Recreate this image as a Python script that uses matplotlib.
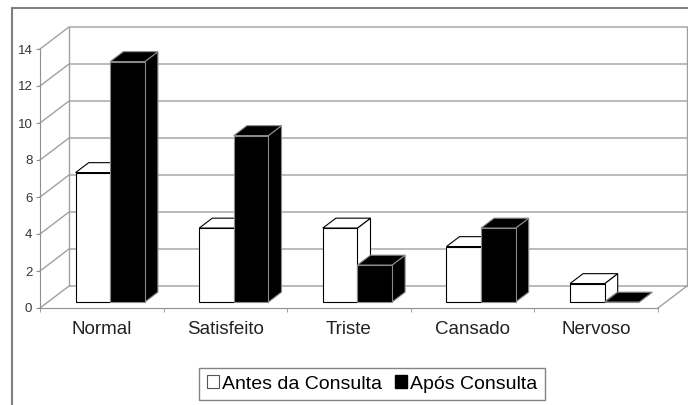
import matplotlib.pyplot as plt
from matplotlib.patches import Polygon, Rectangle, Patch

plt.rcParams['font.family'] = ['Liberation Sans', 'DejaVu Sans']

categories = ['Normal', 'Satisfeito', 'Triste', 'Cansado', 'Nervoso']
antes = [7, 4, 4, 3, 1]
apos = [13, 9, 2, 4, 0]
series_names = ['Antes da Consulta', 'Após Consulta']
yticks = [0, 2, 4, 6, 8, 10, 12, 14]

W, H = 688, 405
fig = plt.figure(figsize=(W / 100, H / 100), dpi=100)

# front plane of the pseudo 3d box (pixels)
x0, x1, y0, y1 = 40, 658, 308, 49
ax = fig.add_axes([x0 / W, 1 - y0 / H, (x1 - x0) / W, (y0 - y1) / H])
n = len(categories)
ax.set_xlim(-0.5, n - 0.5)
ax.set_ylim(0, 14)

# depth of the box in data units (29 px right, 22 px up)
DX = 29 * n / (x1 - x0)
DY = 22 * 14 / (y0 - y1)
grid_c = '#a0a0a0'

for s in ['top', 'right']:
    ax.spines[s].set_visible(False)
for s in ['left', 'bottom']:
    ax.spines[s].set_color('#909090')
ax.set_yticks(yticks)
ax.set_xticks(range(n))
ax.set_xticklabels(categories)
ax.set_xticks([i - 0.5 for i in range(n + 1)], minor=True)
ax.tick_params(axis='y', length=3, pad=2.5, labelsize=9.5, colors='#909090', labelcolor='#333333')
ax.tick_params(axis='x', which='major', length=0, pad=9, labelsize=13.5, labelcolor='#222222')
ax.tick_params(axis='x', which='minor', length=3, color='#909090')
ax.patch.set_visible(False)

# walls and gridlines
for v in yticks:
    ax.plot([-0.5, -0.5 + DX, n - 0.5 + DX], [v, v + DY, v + DY],
            color=grid_c, lw=1, clip_on=False, zorder=0)
for xv in [-0.5 + DX, n - 0.5 + DX]:
    ax.plot([xv, xv], [DY, 14 + DY], color=grid_c, lw=1, clip_on=False, zorder=0)
ax.plot([n - 0.5, n - 0.5 + DX], [0, DY], color=grid_c, lw=1, clip_on=False, zorder=0)

# bars
d0, d1 = 0.27, 0.72
bw = 0.28
styles = [('white', 'black'), ('black', '#8a8a8a')]
z = 2
for i in range(n):
    for s, vals in enumerate([antes, apos]):
        v = vals[i]
        fc, ec = styles[s]
        xl = i - 0.275 + s * bw + d0 * DX
        xr = xl + bw
        ox = (d1 - d0) * DX
        oy = (d1 - d0) * DY
        b = d0 * DY
        top = [(xl, b + v), (xr, b + v), (xr + ox, b + v + oy), (xl + ox, b + v + oy)]
        side = [(xr, b), (xr, b + v), (xr + ox, b + v + oy), (xr + ox, b + oy)]
        ax.add_patch(Polygon(side, closed=True, fc=fc, ec=ec, lw=0.8, clip_on=False, zorder=z))
        ax.add_patch(Polygon(top, closed=True, fc=fc, ec=ec, lw=0.8, clip_on=False, zorder=z))
        ax.bar(xl, v, width=bw, bottom=b, align='edge', color=fc, edgecolor=ec,
               lw=0.8, clip_on=False, zorder=z + 1)
        z += 2

handles = [Patch(fc='white', ec='#555555', lw=0.8), Patch(fc='black', ec='black')]
fig.legend(handles, series_names, loc='center', bbox_to_anchor=(372 / W, 1 - 384 / H),
           ncol=2, frameon=True, fancybox=False, edgecolor='#666666', fontsize=14,
           handlelength=0.6, handleheight=0.6, handletextpad=0.15, columnspacing=0.7,
           borderpad=0.4, borderaxespad=0)

# outer chart frame (cropped at right and bottom)
fig.add_artist(Rectangle((12 / W, -0.2), 1.5, 1.2 - 8 / H, transform=fig.transFigure,
                         fill=False, ec='#808080', lw=1.5))

fig.savefig('out.png', dpi=100)
